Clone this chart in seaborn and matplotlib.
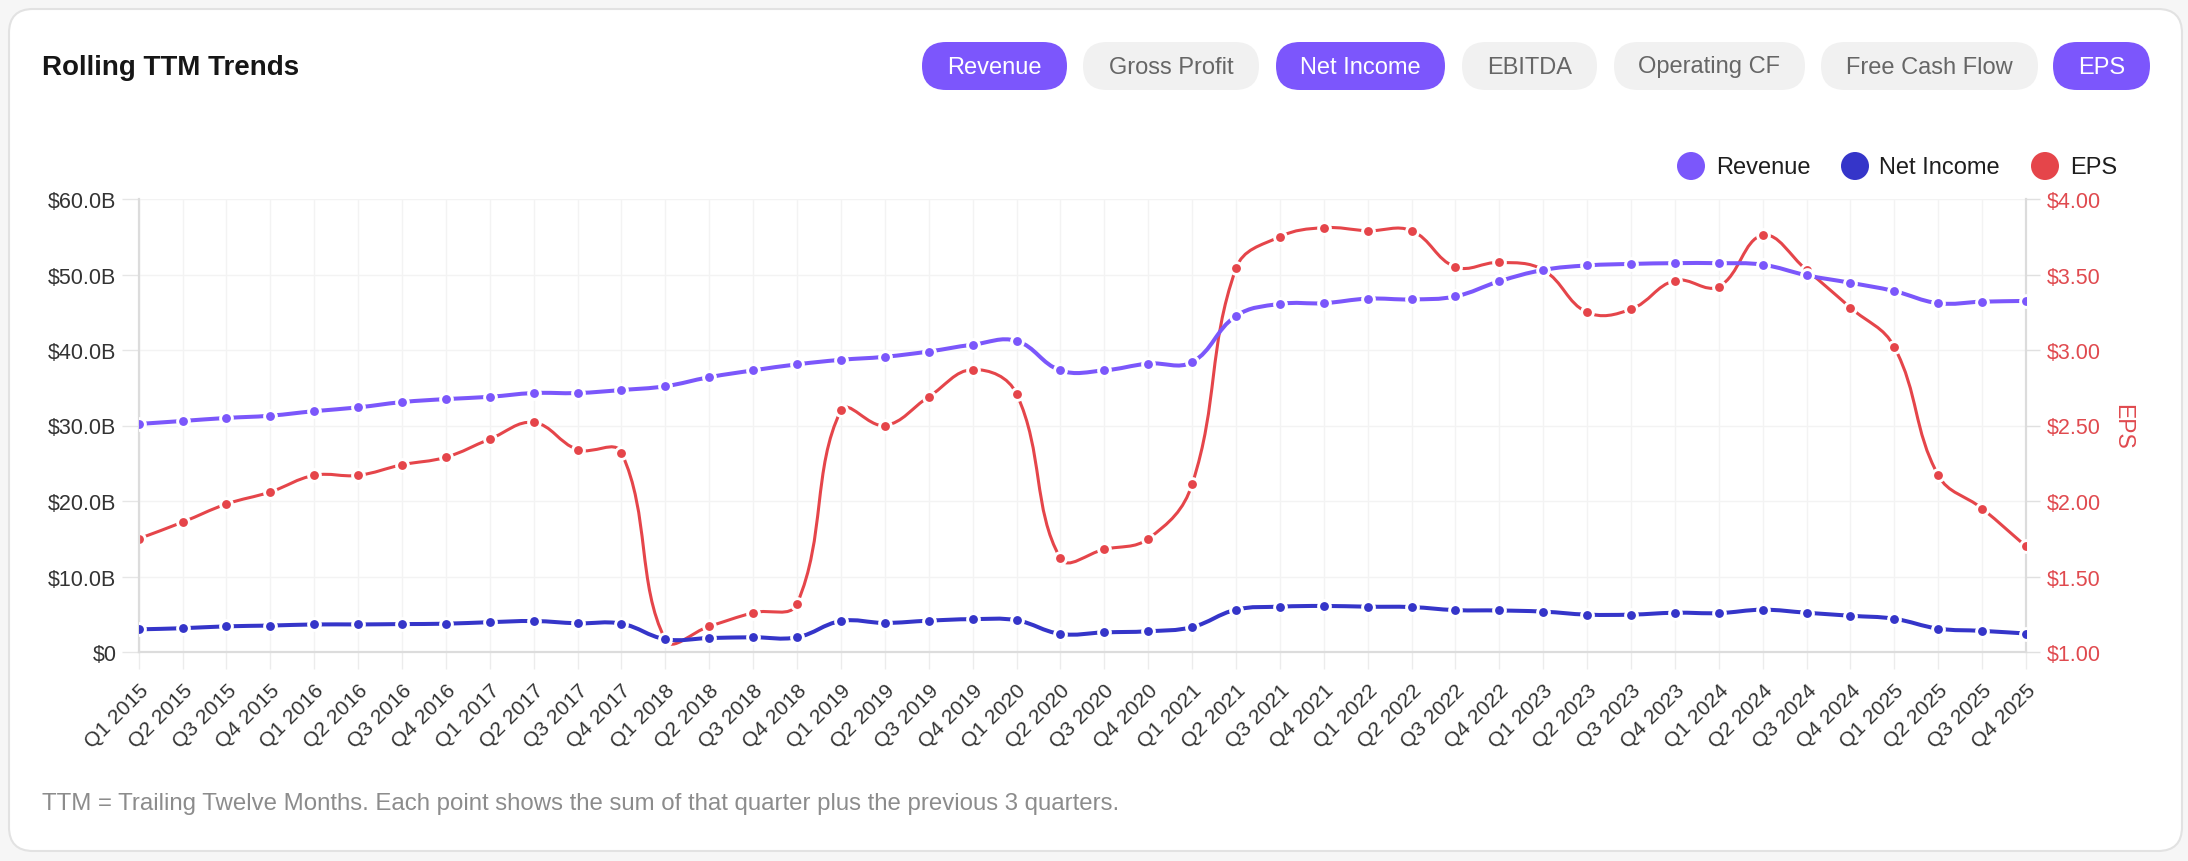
import numpy as np
import pandas as pd
import matplotlib
matplotlib.use("Agg")
import matplotlib.pyplot as plt
import seaborn as sns
from matplotlib.path import Path
from matplotlib.patches import PathPatch, FancyBboxPatch, Circle

# ---------------- data ----------------
years = list(range(2015, 2026))
qtrs = ["Q1", "Q2", "Q3", "Q4"]
quarters = [f"{q} {y}" for y in years for q in qtrs]

revenue_b = [30.2, 30.6, 31.0, 31.3, 31.9, 32.4, 33.1, 33.5, 33.8, 34.3, 34.3, 34.7,
             35.2, 36.4, 37.3, 38.1, 38.7, 39.1, 39.8, 40.7, 41.2, 37.3, 37.3, 38.2,
             38.4, 44.5, 46.1, 46.2, 46.8, 46.7, 47.1, 49.1, 50.6, 51.2, 51.4, 51.5,
             51.5, 51.3, 49.9, 48.9, 47.8, 46.2, 46.4, 46.5]
net_income_b = [3.0, 3.15, 3.4, 3.5, 3.65, 3.65, 3.7, 3.75, 3.95, 4.1, 3.8, 3.75,
                1.7, 1.85, 1.95, 1.95, 4.1, 3.85, 4.15, 4.35, 4.2, 2.4, 2.6, 2.75,
                3.3, 5.6, 6.0, 6.1, 6.0, 5.95, 5.55, 5.5, 5.35, 4.95, 4.95, 5.2,
                5.15, 5.6, 5.2, 4.8, 4.4, 3.1, 2.8, 2.45]
eps = [1.75, 1.86, 1.98, 2.06, 2.17, 2.17, 2.24, 2.29, 2.41, 2.52, 2.34, 2.32,
       1.08, 1.17, 1.26, 1.32, 2.60, 2.50, 2.69, 2.87, 2.71, 1.62, 1.68, 1.75,
       2.11, 3.54, 3.75, 3.81, 3.79, 3.79, 3.55, 3.58, 3.53, 3.25, 3.27, 3.46,
       3.42, 3.76, 3.53, 3.28, 3.02, 2.17, 1.95, 1.70]

left_ticks = [0, 10, 20, 30, 40, 50, 60]
left_tick_labels = ["$0", "$10.0B", "$20.0B", "$30.0B", "$40.0B", "$50.0B", "$60.0B"]
right_ticks = [1.0, 1.5, 2.0, 2.5, 3.0, 3.5, 4.0]
right_tick_labels = ["$1.00", "$1.50", "$2.00", "$2.50", "$3.00", "$3.50", "$4.00"]

buttons = ["Revenue", "Gross Profit", "Net Income", "EBITDA", "Operating CF",
           "Free Cash Flow", "EPS"]
button_active = [True, False, True, False, False, False, True]
legend_labels = ["Revenue", "Net Income", "EPS"]

title = "Rolling TTM Trends"
footnote = ("TTM = Trailing Twelve Months. Each point shows the sum of that quarter "
            "plus the previous 3 quarters.")

# ---------------- style ----------------
C_REV = "#7b57fb"
C_NI = "#3535c9"
C_EPS = "#e5454a"
C_EPS_TXT = "#e04a4f"
C_GRID = "#f3f3f3"

sns.set_theme(style="white")
plt.rcParams["font.family"] = ["Liberation Sans", "DejaVu Sans"]

W, H = 2188, 862
fig = plt.figure(figsize=(W / 100, H / 100), dpi=100)
fig.patch.set_facecolor("#f6f6f6")

# background / decorations in pixel coordinates
bg = fig.add_axes([0, 0, 1, 1], zorder=-10)
bg.set_xlim(0, W)
bg.set_ylim(H, 0)
bg.axis("off")
bg.add_patch(FancyBboxPatch((9, 10), 2173, 842,
                            boxstyle="round,pad=0,rounding_size=24",
                            fc="white", ec="#e2e2e2", lw=1.5))
bg.text(42, 68, title, fontsize=20, fontweight="bold", color="#161616",
        ha="left", va="center")

pill_x = [(922, 1067), (1083, 1259), (1276, 1445), (1462, 1597), (1614, 1805),
          (1821, 2038), (2053, 2150)]
for (x0, x1), lab, act in zip(pill_x, buttons, button_active):
    bg.add_patch(FancyBboxPatch((x0, 43), x1 - x0, 48,
                                boxstyle="round,pad=0,rounding_size=24",
                                fc="#7c56fc" if act else "#f1f1f1", ec="none"))
    bg.text((x0 + x1) / 2, 67.5, lab, fontsize=17,
            color="white" if act else "#666666", ha="center", va="center")

leg_pos = [(1691, 1716), (1855, 1879), (2045, 2070)]
for (cx, tx), lab, col in zip(leg_pos, legend_labels, [C_REV, C_NI, C_EPS]):
    bg.add_patch(Circle((cx, 167), 14, fc=col, ec="none"))
    bg.text(tx, 168, lab, fontsize=17, color="#1e1e1e", ha="left", va="center")

bg.text(42, 804, footnote, fontsize=17.3, color="#8c8c8c", ha="left", va="center")

# ---------------- chart ----------------
L, R, T, B = 138.7, 2026, 200, 653
ax = fig.add_axes([L / W, 1 - B / H, (R - L) / W, (B - T) / H])
ax2 = ax.twinx()
ax.set_zorder(ax2.get_zorder() + 1)
ax.patch.set_visible(False)
ax2.patch.set_visible(False)

n = len(quarters)
idx = np.arange(n)
df = pd.DataFrame({"idx": idx, "quarter": quarters, "Revenue": revenue_b,
                   "NetIncome": net_income_b, "EPS": eps})

px_x = (R - L) / (n - 1)
px_left = (B - T) / 60.0
px_right = (B - T) / 3.0


def spline_path(xs, ys, sx, sy, t=0.4):
    X = np.asarray(xs, float) * sx
    Y = np.asarray(ys, float) * sy
    m = len(X)
    cpp = np.zeros((m, 2))
    cpn = np.zeros((m, 2))
    for i in range(m):
        p = np.array([X[max(i - 1, 0)], Y[max(i - 1, 0)]])
        c = np.array([X[i], Y[i]])
        q = np.array([X[min(i + 1, m - 1)], Y[min(i + 1, m - 1)]])
        d01 = np.hypot(*(c - p))
        d12 = np.hypot(*(q - c))
        tot = d01 + d12
        s01 = d01 / tot if tot else 0.0
        s12 = d12 / tot if tot else 0.0
        cpp[i] = c - t * s01 * (q - p)
        cpn[i] = c + t * s12 * (q - p)
    verts = [(X[0], Y[0])]
    codes = [Path.MOVETO]
    for i in range(m - 1):
        verts += [tuple(cpn[i]), tuple(cpp[i + 1]), (X[i + 1], Y[i + 1])]
        codes += [Path.CURVE4] * 3
    v = np.array(verts)
    v[:, 0] /= sx
    v[:, 1] /= sy
    return Path(v, codes)


MS = 72
MEW = 2.1

# grid on the lower (right-axis) layer so it stays under every series
ax2.set_ylim(1, 4)
ax2.set_yticks(right_ticks)
ax2.grid(True, axis="y", color=C_GRID, lw=1.0, zorder=0)
ax2.vlines(idx, 1, 4, color=C_GRID, lw=1.0, zorder=0)
ax2.set_axisbelow(True)

# EPS (right axis, drawn underneath)
ax2.add_patch(PathPatch(spline_path(df["idx"], df["EPS"], px_x, px_right),
                        fill=False, ec=C_EPS, lw=2.2, capstyle="round",
                        joinstyle="round", zorder=2))
sns.scatterplot(data=df, x="idx", y="EPS", ax=ax2, color=C_EPS, s=MS,
                edgecolor="white", linewidth=MEW, zorder=3, legend=False)

# Net income and revenue (left axis)
ax.add_patch(PathPatch(spline_path(df["idx"], df["NetIncome"], px_x, px_left),
                       fill=False, ec=C_NI, lw=2.9, capstyle="round",
                       joinstyle="round", zorder=2))
sns.scatterplot(data=df, x="idx", y="NetIncome", ax=ax, color=C_NI, s=MS,
                edgecolor="white", linewidth=MEW, zorder=3, legend=False)
ax.add_patch(PathPatch(spline_path(df["idx"], df["Revenue"], px_x, px_left),
                       fill=False, ec=C_REV, lw=2.9, capstyle="round",
                       joinstyle="round", zorder=4))
sns.scatterplot(data=df, x="idx", y="Revenue", ax=ax, color=C_REV, s=MS,
                edgecolor="white", linewidth=MEW, zorder=5, legend=False)

ax.set_xlim(0, n - 1)
ax.set_ylim(0, 60)
ax2.set_ylim(1, 4)

ax.set_xticks(idx)
ax.set_xticklabels(quarters, rotation=45, ha="right", rotation_mode="anchor")
ax.set_yticks(left_ticks)
ax.set_yticklabels(left_tick_labels)
ax2.set_yticks(right_ticks)
ax2.set_yticklabels(right_tick_labels)
ax.set_xlabel("")
ax.set_ylabel("")
ax2.set_xlabel("")
ax2.set_ylabel("EPS", rotation=270, color=C_EPS_TXT, fontsize=16.5, labelpad=24)

ax.grid(False)

ax.tick_params(axis="y", length=12, width=1, color="#e6e6e6", pad=4,
               labelsize=15.5, labelcolor="#333333", left=True)
ax.tick_params(axis="x", length=12, width=1, color="#ececec", pad=8.5,
               labelsize=15.2, labelcolor="#333333", bottom=True)
ax2.tick_params(axis="y", length=10, width=1, color="#e0e0e0", pad=5,
                labelsize=15.5, labelcolor=C_EPS_TXT, right=True)

for s in ["top", "right"]:
    ax.spines[s].set_visible(False)
for s in ["left", "bottom"]:
    ax.spines[s].set_color("#dcdcdc")
    ax.spines[s].set_linewidth(1.6)
for s in ["top", "left", "bottom"]:
    ax2.spines[s].set_visible(False)
ax2.spines["right"].set_color("#dcdcdc")
ax2.spines["right"].set_linewidth(1.6)

fig.savefig("out.png", dpi=100, facecolor=fig.get_facecolor())
